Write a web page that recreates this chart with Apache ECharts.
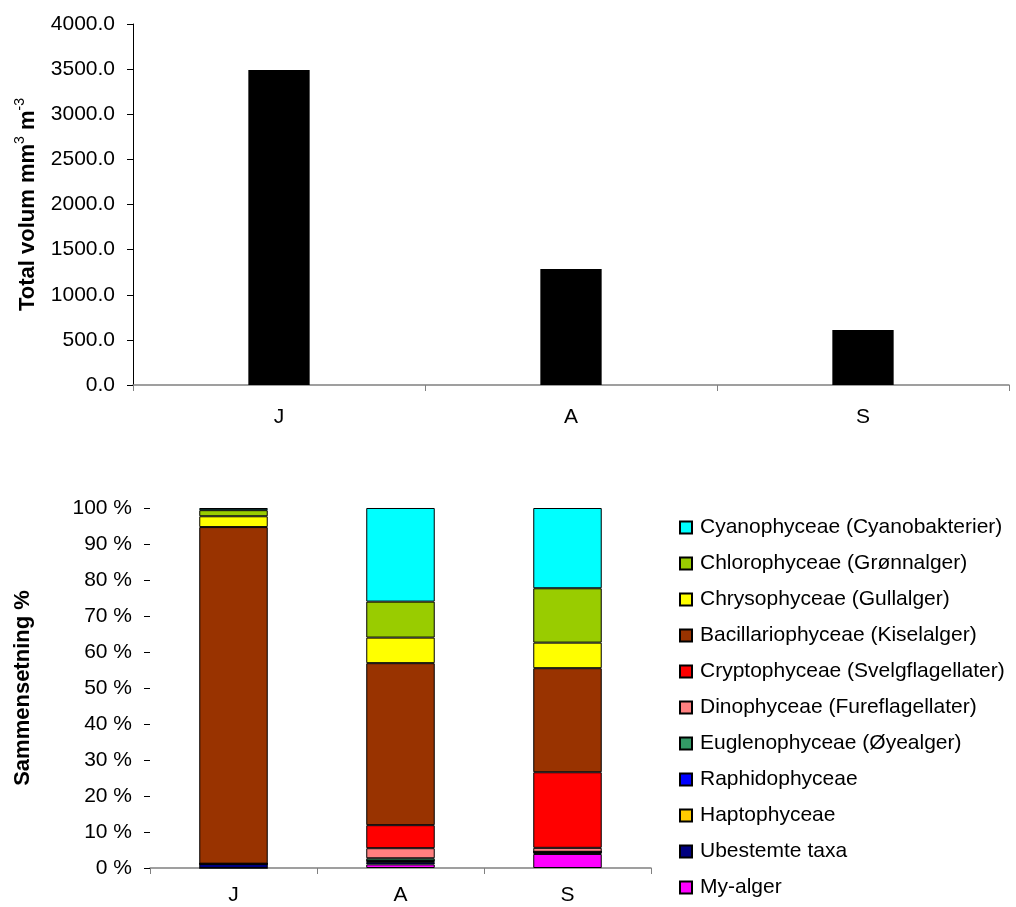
<!DOCTYPE html>
<html>
<head>
<meta charset="utf-8">
<script src="https://cdn.jsdelivr.net/npm/echarts@6/dist/echarts.min.js"></script>
<style>html,body{margin:0;padding:0;background:#fff}#c{width:1016px;height:907px}</style>
</head>
<body>
<div id="c"></div>
<script>
const months = ['J', 'A', 'S'];
const totalVolume = [3490, 1285, 609];
const volumeTicks = [0, 500, 1000, 1500, 2000, 2500, 3000, 3500, 4000];

// composition (%) per month J, A, S
const groupNames = [
  'My-alger', 'Ubestemte taxa', 'Haptophyceae', 'Raphidophyceae',
  'Euglenophyceae (Øyealger)', 'Dinophyceae (Fureflagellater)',
  'Cryptophyceae (Svelgflagellater)', 'Bacillariophyceae (Kiselalger)',
  'Chrysophyceae (Gullalger)', 'Chlorophyceae (Grønnalger)',
  'Cyanophyceae (Cyanobakterier)'
];
const groupColors = [
  '#FF00FF', '#000080', '#FFCC00', '#0000FF', '#339966', '#FF8080',
  '#FF0000', '#993300', '#FFFF00', '#99CC00', '#00FFFF'
];
const myAlger = [0.0, 1.0, 3.9];
const ubestemte = [1.2, 0.7, 0.6];
const hapto = [0.0, 0.3, 0.0];
const raphido = [0.0, 0.0, 0.0];
const eugleno = [0.0, 0.7, 0.0];
const dino = [0.0, 2.8, 1.1];
const crypto = [0.0, 6.4, 21.0];
const bacill = [93.5, 45.0, 28.9];
const chryso = [3.0, 7.1, 7.1];
const chloro = [1.7, 10.0, 15.1];
const cyano = [0.6, 26.0, 22.3];
const groupValues = [myAlger, ubestemte, hapto, raphido, eugleno, dino, crypto, bacill, chryso, chloro, cyano];

const font = 'Liberation Sans, Arial, sans-serif';
const chart = echarts.init(document.getElementById('c'));

const stackSeries = groupNames.map((n, i) => ({
  name: n,
  type: 'bar',
  stack: 'comp',
  xAxisIndex: 1,
  yAxisIndex: 1,
  barWidth: '41%',
  data: groupValues[i],
  itemStyle: { color: groupColors[i], borderColor: '#000', borderWidth: 1 }
}));

chart.setOption({
  animation: false,
  backgroundColor: '#fff',
  textStyle: { fontFamily: font },
  grid: [
    { left: 133, right: 7, top: 24, bottom: 522, containLabel: false },
    { left: 150, right: 365, top: 508, bottom: 39, containLabel: false }
  ],
  legend: {
    orient: 'vertical',
    left: 674,
    top: 512,
    itemWidth: 12,
    itemHeight: 12,
    itemGap: 15,
    icon: 'rect',
    data: groupNames.slice().reverse(),
    textStyle: { fontFamily: font, fontSize: 21, color: '#000', lineHeight: 21, padding: [0, 0, 0, 3] }
  },
  xAxis: [
    {
      type: 'category', gridIndex: 0, data: months,
      axisLine: { lineStyle: { color: '#808080', width: 1.5 } },
      axisTick: { show: true, length: 6, lineStyle: { color: '#808080' } },
      axisLabel: { fontSize: 21, color: '#000', margin: 22, fontFamily: font }
    },
    {
      type: 'category', gridIndex: 1, data: months,
      axisLine: { lineStyle: { color: '#808080', width: 1.5 } },
      axisTick: { show: true, length: 6, lineStyle: { color: '#808080' } },
      axisLabel: { fontSize: 21, color: '#000', margin: 17, fontFamily: font }
    }
  ],
  yAxis: [
    {
      type: 'value', gridIndex: 0, min: volumeTicks[0], max: volumeTicks[volumeTicks.length - 1], interval: 500,
      splitLine: { show: false },
      axisLine: { show: true, lineStyle: { color: '#000', width: 1 } },
      axisTick: { show: true, length: 6, lineStyle: { color: '#000' } },
      axisLabel: { fontSize: 21, color: '#000', margin: 18, fontFamily: font, formatter: v => v.toFixed(1) },
      name: '{a|Total volum mm}{s|3}{a| m}{s|-3}',
      nameLocation: 'middle',
      nameGap: 94,
      nameRotate: 90,
      nameTextStyle: {
        rich: {
          a: { fontSize: 22, fontWeight: 'bold', color: '#000', fontFamily: font, lineHeight: 26, verticalAlign: 'bottom' },
          s: { fontSize: 14, color: '#000', fontFamily: font, lineHeight: 26, verticalAlign: 'top' }
        }
      }
    },
    {
      type: 'value', gridIndex: 1, min: 0, max: 100, interval: 10,
      splitLine: { show: false },
      axisLine: { show: false },
      axisTick: { show: true, length: 6, lineStyle: { color: '#000' } },
      axisLabel: { fontSize: 21, color: '#000', margin: 18, fontFamily: font, formatter: v => v + ' %' },
      name: 'Sammensetning %',
      nameLocation: 'middle',
      nameGap: 116,
      nameRotate: 90,
      nameTextStyle: { fontSize: 22, fontWeight: 'bold', color: '#000', fontFamily: font }
    }
  ],
  series: [
    {
      type: 'bar', xAxisIndex: 0, yAxisIndex: 0, data: totalVolume, barWidth: '21%',
      itemStyle: { color: '#000' }
    }
  ].concat(stackSeries)
});
</script>
</body>
</html>
